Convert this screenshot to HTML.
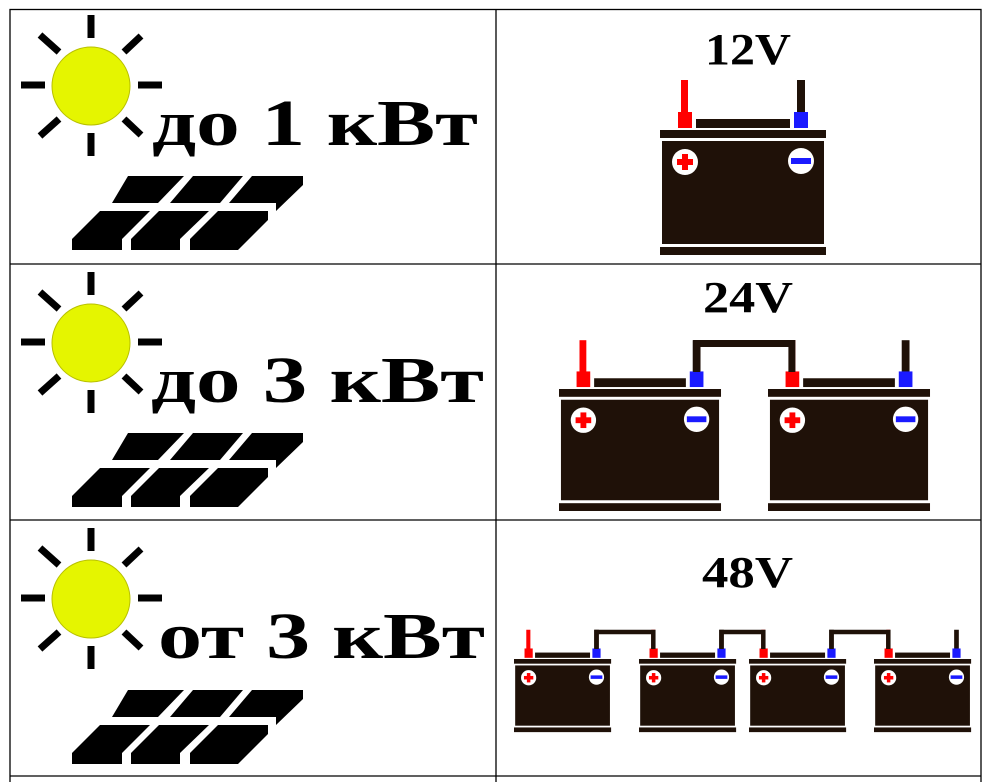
<!DOCTYPE html>
<html><head><meta charset="utf-8"><style>
html,body{margin:0;padding:0;background:#fff;width:991px;height:782px;overflow:hidden}
</style></head><body>
<svg width="991" height="782" viewBox="0 0 991 782" xmlns="http://www.w3.org/2000/svg">
<defs>
<g id="bat">
<rect x="21" y="-50" width="7" height="34" fill="#ff0000"/>
<rect x="18" y="-18" width="14" height="16" fill="#ff0000"/>
<rect x="137" y="-50" width="8" height="34" fill="#1f1108"/>
<rect x="134" y="-18" width="14" height="16" fill="#1a1aff"/>
<rect x="36" y="-11" width="94" height="9" fill="#1f1108"/>
<rect x="0" y="0" width="166" height="8" fill="#1f1108"/>
<rect x="2" y="11" width="162" height="103" fill="#1f1108"/>
<rect x="0" y="117" width="166" height="8" fill="#1f1108"/>
<circle cx="25" cy="32" r="13" fill="#fff"/>
<rect x="17" y="29" width="16" height="6" fill="#ff0000"/>
<rect x="22" y="24" width="6" height="16" fill="#ff0000"/>
<circle cx="141" cy="31" r="13" fill="#fff"/>
<rect x="131" y="28" width="20" height="6" fill="#1a1aff"/>
</g>
<g id="sun">
<circle cx="91" cy="86" r="39" fill="#e5f500" stroke="#b8c000" stroke-width="1"/>
<g stroke="#000" stroke-width="7">
<line x1="91" y1="15" x2="91" y2="38"/>
<line x1="91" y1="133" x2="91" y2="156"/>
<line x1="21" y1="85" x2="45" y2="85"/>
<line x1="138" y1="85" x2="162" y2="85"/>
<line x1="40" y1="35" x2="59" y2="52"/>
<line x1="124" y1="52" x2="141" y2="36"/>
<line x1="40" y1="136" x2="59" y2="119"/>
<line x1="124" y1="119" x2="141" y2="135"/>
</g>
</g>
<g id="panel" fill="#000">
<polygon points="128,176 184,176 158,203 112,203"/>
<polygon points="193,176 243,176 220,203 170,203"/>
<polygon points="252,176 303,176 303,185 276,211 276,203 229,203"/>
<polygon points="100,211 150,211 122,239 122,250 72,250 72,239"/>
<polygon points="159,211 209,211 180,239 180,250 131,250 131,239"/>
<polygon points="218,211 268,211 268,220 238,250 190,250 190,239"/>
</g>
</defs>

<g stroke="#000" stroke-width="1.3" fill="none">
<rect x="10" y="9.5" width="971" height="800"/>
<line x1="496" y1="9" x2="496" y2="782"/>
<line x1="10" y1="264" x2="981" y2="264"/>
<line x1="10" y1="520" x2="981" y2="520"/>
<line x1="10" y1="776" x2="981" y2="776"/>
</g>

<use href="#sun"/>
<use href="#panel"/>
<use href="#sun" transform="translate(0,257)"/>
<use href="#panel" transform="translate(0,257)"/>
<use href="#sun" transform="translate(0,513)"/>
<use href="#panel" transform="translate(0,514)"/>

<g font-family="'Liberation Serif',serif" font-weight="bold" fill="#000">
<text x="152" y="145" font-size="66" textLength="326" lengthAdjust="spacingAndGlyphs">до 1 кВт</text>
<text x="151" y="402" font-size="66" textLength="333" lengthAdjust="spacingAndGlyphs">до 3 кВт</text>
<text x="158" y="658" font-size="66" textLength="327" lengthAdjust="spacingAndGlyphs">от 3 кВт</text>
<text x="705" y="64" font-size="44" textLength="86" lengthAdjust="spacingAndGlyphs">12V</text>
<text x="703" y="312" font-size="44" textLength="90" lengthAdjust="spacingAndGlyphs">24V</text>
<text x="702" y="587" font-size="44" textLength="91" lengthAdjust="spacingAndGlyphs">48V</text>
</g>

<use href="#bat" transform="translate(660,130)"/>

<!-- 24V -->
<use href="#bat" transform="translate(559,389) scale(0.976)"/>
<use href="#bat" transform="translate(768,389) scale(0.976)"/>
<g fill="none" stroke="#1f1108" stroke-width="7">
<path d="M696.6 372 V343.5 H791.9 V372"/>
</g>

<!-- 48V -->
<use href="#bat" transform="translate(514,659) scale(0.585)"/>
<use href="#bat" transform="translate(639,659) scale(0.585)"/>
<use href="#bat" transform="translate(749,659) scale(0.585)"/>
<use href="#bat" transform="translate(874,659) scale(0.585)"/>
<g fill="none" stroke="#1f1108" stroke-width="4.5">
<path d="M596.5 649 V632 H653.3 V649"/>
<path d="M721.5 649 V632 H763.3 V649"/>
<path d="M831.5 649 V632 H888.3 V649"/>
</g>
</svg>
</body></html>
